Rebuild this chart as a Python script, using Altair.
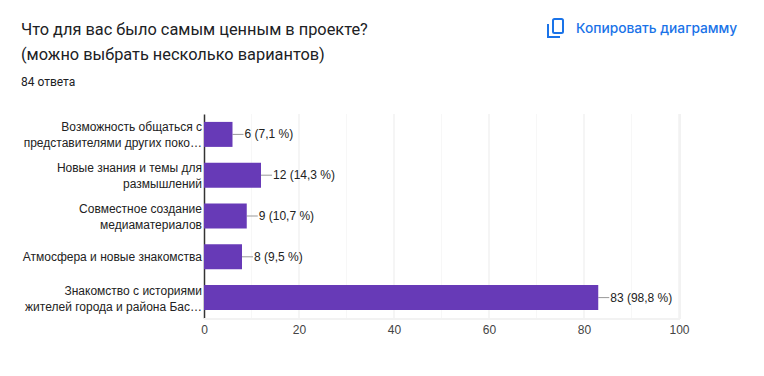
import altair as alt
import pandas as pd

categories = [
    "Возможность общаться с|представителями других поко…",
    "Новые знания и темы для|размышлений",
    "Совместное создание|медиаматериалов",
    "Атмосфера и новые знакомства",
    "Знакомство с историями|жителей города и района Бас…",
]
values = [6, 12, 9, 8, 83]
labels = ["6 (7,1 %)", "12 (14,3 %)", "9 (10,7 %)", "8 (9,5 %)", "83 (98,8 %)"]
title_lines = ["Что для вас было самым ценным в проекте?", "(можно выбрать несколько вариантов)"]
subtitle = "84 ответа"
copy_label = "Копировать диаграмму"
minor_ticks = [10, 30, 50, 70, 90]
major_ticks = [20, 40, 60, 80, 100]
axis_ticks = [0, 20, 40, 60, 80, 100]

df = pd.DataFrame({"cat": categories, "value": values, "label": labels})
df["two"] = df["cat"].str.contains("|", regex=False)

OX, OY = 204, 114  # plot origin in the picture
W, H = 475, 204
xs = alt.Scale(domain=[0, 100], nice=False)
ys = alt.Scale(domain=categories, paddingInner=0, paddingOuter=0)
x_axis = alt.Axis(values=axis_ticks, grid=False, ticks=False, domain=False,
                  labelFont="Liberation Sans", labelFontSize=12, labelColor="#444444",
                  labelPadding=6, labelFlush=False, format="d")
y_axis = alt.Axis(ticks=False, domain=True, domainColor="#333333", domainWidth=1.5, labels=False)

base = alt.Chart(df)

minor = alt.Chart(pd.DataFrame({"t": minor_ticks})).mark_rule(color="#f7f7f7", strokeWidth=1).encode(
    x=alt.X("t:Q", scale=xs, axis=x_axis, title=None))
major = alt.Chart(pd.DataFrame({"t": major_ticks})).mark_rule(color="#ebebeb", strokeWidth=1).encode(
    x=alt.X("t:Q", scale=xs, axis=x_axis, title=None))
frame_b = alt.Chart(pd.DataFrame({"a": [0]})).mark_rule(color="#f2f2f2", strokeWidth=2).encode(
    x=alt.value(0), x2=alt.value(W + 1), y=alt.value(H + 1))
frame_r = alt.Chart(pd.DataFrame({"a": [0]})).mark_rule(color="#f2f2f2", strokeWidth=2).encode(
    x=alt.value(W + 1), y=alt.value(0), y2=alt.value(H + 1))

connector = base.mark_rule(color="#999999", strokeWidth=1, x2Offset=11).encode(
    x=alt.X("value:Q", scale=xs, axis=x_axis, title=None), x2="value:Q",
    y=alt.Y("cat:N", scale=ys, sort=categories, axis=y_axis, title=None))

bars = base.mark_bar(color="#673ab7", size=25).encode(
    x=alt.X("value:Q", scale=xs, axis=x_axis, title=None),
    y=alt.Y("cat:N", scale=ys, sort=categories, axis=y_axis, title=None),
)

vals = base.mark_text(align="left", baseline="middle", dx=12, font="Liberation Sans",
                      fontSize=12, color="#222222").encode(
    x=alt.X("value:Q", scale=xs, axis=x_axis, title=None),
    y=alt.Y("cat:N", scale=ys, sort=categories, axis=y_axis, title=None), text="label:N")


def cat_layer(flag, dy):
    return alt.Chart(df[df["two"] == flag]).mark_text(
        align="right", baseline="middle", lineBreak="|", lineHeight=16, dy=dy,
        font="Liberation Sans", fontSize=12, color="#222222").encode(
        x=alt.value(-2),
        y=alt.Y("cat:N", scale=ys, sort=categories, axis=y_axis, title=None), text="cat:N")


cat_two = cat_layer(True, -7)
cat_one = cat_layer(False, 0)


def txt(s, x, y, size, color, font="Roboto", weight=400):
    return alt.Chart(pd.DataFrame({"s": [s]})).mark_text(
        align="left", baseline="alphabetic", font=font, fontSize=size, color=color, fontWeight=weight,
    ).encode(x=alt.value(x - OX), y=alt.value(y - OY), text="s:N")


t1 = txt(title_lines[0], 21, 35, 16.35, "#202124")
t2 = txt(title_lines[1], 21, 60, 16.35, "#202124")
t3 = txt(subtitle, 21, 86, 12, "#202124")
t4 = txt(copy_label, 576, 33, 13.74, "#1a73e8", font="Inter", weight=500)

BLUE = "#1a73e8"
icon_front = alt.Chart(pd.DataFrame({"a": [0]})).mark_rect(
    fillOpacity=0, stroke=BLUE, strokeWidth=2, cornerRadius=1.5).encode(
    x=alt.value(553 - OX), x2=alt.value(563 - OX), y=alt.value(19 - OY), y2=alt.value(33 - OY))
icon_l = alt.Chart(pd.DataFrame({"a": [0]})).mark_rule(color=BLUE, strokeWidth=2).encode(
    x=alt.value(548 - OX), y=alt.value(24 - OY), y2=alt.value(38 - OY))
icon_b = alt.Chart(pd.DataFrame({"a": [0]})).mark_rule(color=BLUE, strokeWidth=2).encode(
    x=alt.value(547 - OX), x2=alt.value(560 - OX), y=alt.value(37 - OY))

chart = alt.layer(
    minor, major, frame_b, frame_r, connector, bars, vals, cat_two, cat_one, t1, t2, t3, t4,
    icon_front, icon_l, icon_b
).properties(
    width=W, height=H,
    autosize=alt.AutoSizeParams(type="none"),
    padding={"left": OX - 8, "top": OY - 8, "right": 68, "bottom": 36},
    background="white",
).configure_view(stroke=None)

chart.save("out.html", embed_options={"renderer": "svg", "actions": False})
